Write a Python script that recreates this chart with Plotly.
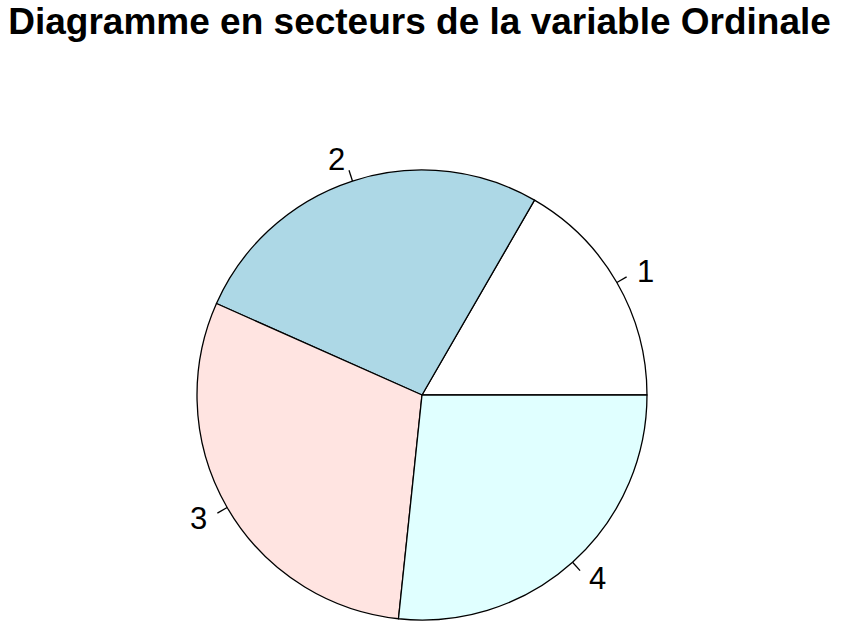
import math
import plotly.graph_objects as go

# Data
categories = ["1", "2", "3", "4"]
values = [5, 8, 9, 8]
colors = ["#FFFFFF", "#ADD8E6", "#FFE4E1", "#E0FFFF"]
title_text = "Diagramme en secteurs de la variable Ordinale"

# Layout geometry (pixels)
W, H = 846, 622
CX, CY, R = 422, 395, 225

total = sum(values)
# Plotly counterclockwise: first slice ends at the rotation angle (clockwise from 12 o'clock)
rotation = 90 - 360 * values[0] / total

fig = go.Figure(go.Pie(
    labels=categories,
    values=values,
    sort=False,
    direction="counterclockwise",
    rotation=rotation,
    marker=dict(colors=colors, line=dict(color="black", width=1.3)),
    textinfo="none",
    hoverinfo="label+value",
    showlegend=False,
    domain=dict(x=[(CX - R) / W, (CX + R) / W], y=[1 - (CY + R) / H, 1 - (CY - R) / H]),
))

def px(x):
    return x / W

def py(y):
    return 1 - y / H

cum = 0
for lab, v in zip(categories, values):
    mid = 2 * math.pi * (cum + v / 2) / total
    cum += v
    c, s = math.cos(mid), math.sin(mid)
    fig.add_shape(type="line", xref="paper", yref="paper",
                  x0=px(CX + R * c), y0=py(CY - R * s),
                  x1=px(CX + 1.05 * R * c), y1=py(CY - 1.05 * R * s),
                  line=dict(color="black", width=1.3))
    fig.add_annotation(xref="paper", yref="paper",
                       x=px(CX + 1.1 * R * c), y=py(CY - 1.1 * R * s),
                       text=lab, showarrow=False,
                       xanchor="left" if c > 0 else "right", yanchor="middle",
                       font=dict(family="Liberation Sans, Arial, sans-serif", size=31, color="black"),
                       borderpad=0)

fig.update_layout(
    width=W, height=H,
    margin=dict(l=0, r=0, t=0, b=0),
    paper_bgcolor="white",
    plot_bgcolor="white",
    title=dict(text="<b>" + title_text + "</b>", x=0.496, xanchor="center",
               xref="paper", yref="container", y=1 - 21 / H, yanchor="middle",
               font=dict(family="Liberation Sans, Arial, sans-serif", size=37, color="black")),
)

fig.write_html("out.html", config={"displayModeBar": False},
               post_script="document.body.style.margin='0';document.body.style.padding='0';")
